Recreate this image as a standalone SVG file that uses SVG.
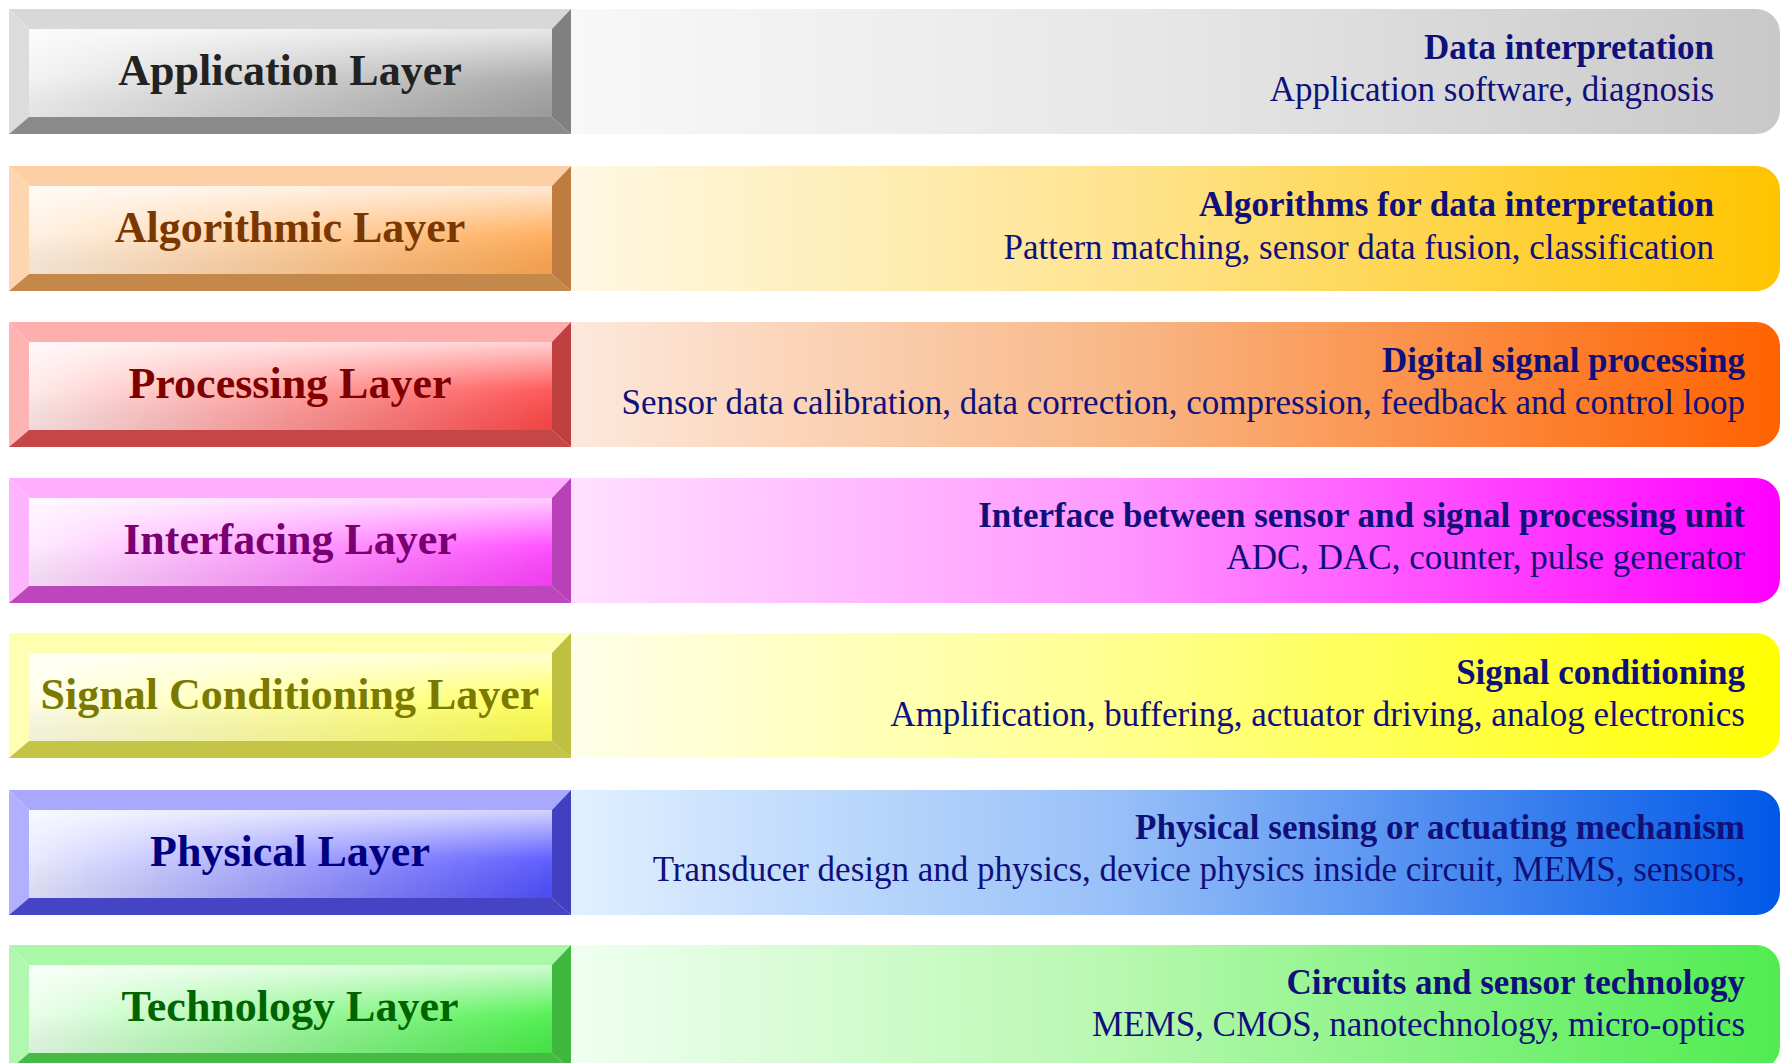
<svg xmlns="http://www.w3.org/2000/svg" width="1782" height="1063" viewBox="0 0 1782 1063">
<style>
.lbl{font-family:"Liberation Serif","Times New Roman",serif;font-weight:bold;font-size:44px;text-anchor:middle}
.ttl{font-family:"Liberation Serif","Times New Roman",serif;font-weight:bold;font-size:35px;fill:#10107a;text-anchor:end}
.sub{font-family:"Liberation Serif","Times New Roman",serif;font-size:35px;fill:#10107a;text-anchor:end}
</style>
<defs>
<linearGradient id="gloss" x1="0" y1="0" x2="0" y2="1">
<stop offset="0" stop-color="#fff" stop-opacity="0.75"/>
<stop offset="0.55" stop-color="#fff" stop-opacity="0.1"/>
<stop offset="1" stop-color="#000" stop-opacity="0.06"/>
</linearGradient>
<linearGradient id="f1" x1="0" y1="0" x2="1" y2="0"><stop offset="0" stop-color="#f2f2f2"/><stop offset="1" stop-color="#a4a4a4"/></linearGradient>
<linearGradient id="f2" x1="0" y1="0" x2="1" y2="0"><stop offset="0" stop-color="#fff0e0"/><stop offset="1" stop-color="#ffa850"/></linearGradient>
<linearGradient id="f3" x1="0" y1="0" x2="1" y2="0"><stop offset="0" stop-color="#ffe8e8"/><stop offset="1" stop-color="#ff4848"/></linearGradient>
<linearGradient id="f4" x1="0" y1="0" x2="1" y2="0"><stop offset="0" stop-color="#ffe8ff"/><stop offset="1" stop-color="#ff40ff"/></linearGradient>
<linearGradient id="f5" x1="0" y1="0" x2="1" y2="0"><stop offset="0" stop-color="#ffffe8"/><stop offset="1" stop-color="#ffff50"/></linearGradient>
<linearGradient id="f6" x1="0" y1="0" x2="1" y2="0"><stop offset="0" stop-color="#e8e8ff"/><stop offset="1" stop-color="#5050ff"/></linearGradient>
<linearGradient id="f7" x1="0" y1="0" x2="1" y2="0"><stop offset="0" stop-color="#e8ffe8"/><stop offset="1" stop-color="#48f048"/></linearGradient>
<linearGradient id="b1" x1="0" y1="0" x2="1" y2="0"><stop offset="0" stop-color="#f8f8f8"/><stop offset="0.5" stop-color="#e6e6e6"/><stop offset="1" stop-color="#c8c8c8"/></linearGradient>
<linearGradient id="b2" x1="0" y1="0" x2="1" y2="0"><stop offset="0" stop-color="#fff8e4"/><stop offset="0.45" stop-color="#fee490"/><stop offset="1" stop-color="#ffc400"/></linearGradient>
<linearGradient id="b3" x1="0" y1="0" x2="1" y2="0"><stop offset="0" stop-color="#fde8dc"/><stop offset="0.45" stop-color="#f8b888"/><stop offset="1" stop-color="#ff6200"/></linearGradient>
<linearGradient id="b4" x1="0" y1="0" x2="1" y2="0"><stop offset="0" stop-color="#ffe0ff"/><stop offset="0.45" stop-color="#ff98ff"/><stop offset="1" stop-color="#ff00ff"/></linearGradient>
<linearGradient id="b5" x1="0" y1="0" x2="1" y2="0"><stop offset="0" stop-color="#ffffea"/><stop offset="0.45" stop-color="#ffff90"/><stop offset="1" stop-color="#ffff00"/></linearGradient>
<linearGradient id="b6" x1="0" y1="0" x2="1" y2="0"><stop offset="0" stop-color="#e0f0ff"/><stop offset="0.45" stop-color="#98c0f8"/><stop offset="1" stop-color="#0058e8"/></linearGradient>
<linearGradient id="b7" x1="0" y1="0" x2="1" y2="0"><stop offset="0" stop-color="#effff0"/><stop offset="0.45" stop-color="#b8f8b0"/><stop offset="1" stop-color="#50ec50"/></linearGradient>
<path id="bar" d="M571,0 H1756 A24,24 0 0 1 1780,24 V101 A24,24 0 0 1 1756,125 H571 Z"/>
<polygon id="bt" points="9,0 571,0 552,20 29,20"/>
<polygon id="bl" points="9,0 29,20 29,108 9,125"/>
<polygon id="br" points="571,0 571,125 552,108 552,20"/>
<polygon id="bb" points="9,125 29,108 552,108 571,125"/>
<rect id="face" x="29" y="20" width="523" height="88"/>
</defs>
<rect width="1782" height="1063" fill="#ffffff"/>

<g id="application-layer" transform="translate(0,9)">
<use href="#bar" fill="url(#b1)"/>
<use href="#bt" fill="#d8d8d8"/><use href="#bl" fill="#dcdcdc"/><use href="#br" fill="#808080"/><use href="#bb" fill="#8a8a8a"/>
<use href="#face" fill="url(#f1)"/><use href="#face" fill="url(#gloss)"/>
<text class="lbl" x="290" y="76" fill="#222">Application Layer</text>
<text class="ttl" x="1714" y="50">Data interpretation</text>
<text class="sub" x="1714" y="92">Application software, diagnosis</text>
</g>

<g id="algorithmic-layer" transform="translate(0,166)">
<use href="#bar" fill="url(#b2)"/>
<use href="#bt" fill="#fcd0a4"/><use href="#bl" fill="#fdd6b0"/><use href="#br" fill="#c07c40"/><use href="#bb" fill="#c4884a"/>
<use href="#face" fill="url(#f2)"/><use href="#face" fill="url(#gloss)"/>
<text class="lbl" x="290" y="76" fill="#7a3800">Algorithmic Layer</text>
<text class="ttl" x="1714" y="50">Algorithms for data interpretation</text>
<text class="sub" x="1714" y="93">Pattern matching, sensor data fusion, classification</text>
</g>

<g id="processing-layer" transform="translate(0,322)">
<use href="#bar" fill="url(#b3)"/>
<use href="#bt" fill="#ffaeae"/><use href="#bl" fill="#ffb4b4"/><use href="#br" fill="#c04040"/><use href="#bb" fill="#c44646"/>
<use href="#face" fill="url(#f3)"/><use href="#face" fill="url(#gloss)"/>
<text class="lbl" x="290" y="76" fill="#800000">Processing Layer</text>
<text class="ttl" x="1745" y="50">Digital signal processing</text>
<text class="sub" x="1745" y="92">Sensor data calibration, data correction, compression, feedback and control loop</text>
</g>

<g id="interfacing-layer" transform="translate(0,478)">
<use href="#bar" fill="url(#b4)"/>
<use href="#bt" fill="#ffaeff"/><use href="#bl" fill="#ffb4ff"/><use href="#br" fill="#b840b8"/><use href="#bb" fill="#bc46bc"/>
<use href="#face" fill="url(#f4)"/><use href="#face" fill="url(#gloss)"/>
<text class="lbl" x="290" y="76" fill="#780070">Interfacing Layer</text>
<text class="ttl" x="1745" y="49">Interface between sensor and signal processing unit</text>
<text class="sub" x="1745" y="91">ADC, DAC, counter, pulse generator</text>
</g>

<g id="signal-conditioning-layer" transform="translate(0,633)">
<use href="#bar" fill="url(#b5)"/>
<use href="#bt" fill="#ffffae"/><use href="#bl" fill="#ffffb4"/><use href="#br" fill="#c0c040"/><use href="#bb" fill="#c4c446"/>
<use href="#face" fill="url(#f5)"/><use href="#face" fill="url(#gloss)"/>
<text class="lbl" x="290" y="76" fill="#7a7a00">Signal Conditioning Layer</text>
<text class="ttl" x="1745" y="51">Signal conditioning</text>
<text class="sub" x="1745" y="93">Amplification, buffering, actuator driving, analog electronics</text>
</g>

<g id="physical-layer" transform="translate(0,790)">
<use href="#bar" fill="url(#b6)"/>
<use href="#bt" fill="#a8a8ff"/><use href="#bl" fill="#b0b0ff"/><use href="#br" fill="#4040c0"/><use href="#bb" fill="#4444c4"/>
<use href="#face" fill="url(#f6)"/><use href="#face" fill="url(#gloss)"/>
<text class="lbl" x="290" y="76" fill="#000080">Physical Layer</text>
<text class="ttl" x="1745" y="49">Physical sensing or actuating mechanism</text>
<text class="sub" x="1745" y="91">Transducer design and physics, device physics inside circuit, MEMS, sensors,</text>
</g>

<g id="technology-layer" transform="translate(0,945)">
<use href="#bar" fill="url(#b7)"/>
<use href="#bt" fill="#a8f8a8"/><use href="#bl" fill="#b0f8b0"/><use href="#br" fill="#40b840"/><use href="#bb" fill="#44bc44"/>
<use href="#face" fill="url(#f7)"/><use href="#face" fill="url(#gloss)"/>
<text class="lbl" x="290" y="76" fill="#006400">Technology Layer</text>
<text class="ttl" x="1745" y="49">Circuits and sensor technology</text>
<text class="sub" x="1745" y="91">MEMS, CMOS, nanotechnology, micro-optics</text>
</g>

<g id="connectors"></g>
</svg>
